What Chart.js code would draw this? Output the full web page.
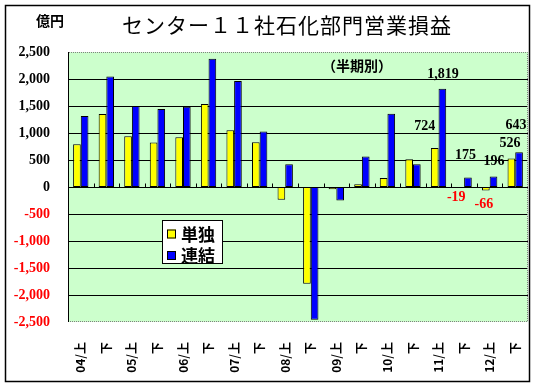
<!DOCTYPE html>
<html>
<head>
<meta charset="utf-8">
<script src="https://cdn.jsdelivr.net/npm/chart.js@4"></script>
<style>
  html, body { margin: 0; padding: 0; background: #fff; }
</style>
</head>
<body>
<canvas id="canvas" width="538" height="388"></canvas>
<script>
const labels = ["04/上", "下", "05/上", "下", "06/上", "下", "07/上", "下", "08/上", "下",
  "09/上", "下", "10/上", "下", "11/上", "下", "12/上", "下"];
const tandoku = [790, 1350, 940, 825, 920, 1535, 1050, 830, -235, -1790,
  -40, 50, 165, 515, 724, -19, -66, 526];
const renketsu = [1315, 2045, 1500, 1445, 1485, 2375, 1965, 1030, 420, -2460,
  -250, 565, 1355, 420, 1819, 175, 196, 643];
const yMin = -2500;
const yMax = 2500;
const yStep = 500;
const labelFrom = 14; // 数値ラベルは 11/上 から

// label offsets (px) from bar end, per dataset, for labelFrom..end
const labelOffsets = [
  [[-10, -22], [-4, 9], [-2, 14], [-1.5, -15]],
  [[0.5, -14], [-2.5, -22], [0.5, -15.5], [-3, -26.5]],
];

const fmt = (v) => v.toLocaleString("en-US");
const serif = '"Liberation Serif", "Times New Roman", serif';
const jp = '"Noto Sans CJK JP", sans-serif';

const decor = {
  id: "decor",
  beforeDraw(chart) {
    const { ctx, chartArea: a } = chart;
    ctx.save();
    ctx.fillStyle = "#fff";
    ctx.fillRect(0, 0, chart.width, chart.height);
    ctx.fillStyle = "#ccffcc";
    ctx.fillRect(a.left, a.top, a.right - a.left, a.bottom - a.top);
    ctx.restore();
  },
  beforeDatasetsDraw(chart) {
    // gridlines + value axis line, behind the bars
    const { ctx, chartArea: a, scales } = chart;
    const y = scales.y;
    ctx.save();
    ctx.fillStyle = "#000";
    y.ticks.forEach((t) => {
      if (Math.abs(t.value) === yMax) return;
      const py = Math.round(y.getPixelForValue(t.value));
      ctx.fillRect(a.left, py, a.right - a.left, 1);
    });
    ctx.fillRect(Math.round(a.left), a.top, 1, a.bottom - a.top);
    ctx.restore();
  },
  afterDatasetsDraw(chart) {
    const { ctx, chartArea: a, scales } = chart;
    const x = scales.x;
    const y0 = Math.round(scales.y.getPixelForValue(0)) + 0.5;
    const w = (a.right - a.left) / labels.length;
    ctx.save();
    // zero line + ticks at category boundaries
    ctx.strokeStyle = "#000";
    ctx.lineWidth = 1;
    ctx.beginPath();
    ctx.moveTo(a.left, y0);
    ctx.lineTo(a.right, y0);
    for (let i = 1; i < labels.length; i++) {
      const px = Math.round(x.getPixelForValue(i) - w / 2) + 0.5;
      ctx.moveTo(px, y0);
      ctx.lineTo(px, y0 - 4);
    }
    ctx.stroke();
    // dotted plot border (top, right, bottom)
    ctx.strokeStyle = "#808080";
    ctx.setLineDash([1, 1]);
    ctx.beginPath();
    ctx.moveTo(a.left + 1, a.top + 0.5);
    ctx.lineTo(a.right - 0.5, a.top + 0.5);
    ctx.lineTo(a.right - 0.5, a.bottom - 0.5);
    ctx.lineTo(a.left + 1, a.bottom - 0.5);
    ctx.stroke();
    ctx.setLineDash([]);
    // data labels
    ctx.font = "bold 14px " + serif;
    ctx.textAlign = "center";
    ctx.textBaseline = "middle";
    chart.data.datasets.forEach((ds, d) => {
      const meta = chart.getDatasetMeta(d);
      for (let i = labelFrom; i < ds.data.length; i++) {
        const el = meta.data[i];
        const off = labelOffsets[d][i - labelFrom];
        const v = ds.data[i];
        ctx.fillStyle = v < 0 ? "#ff0000" : "#000";
        ctx.fillText(fmt(v), el.x + off[0], el.y + off[1]);
      }
    });
    ctx.restore();
  },
  afterDraw(chart) {
    const { ctx } = chart;
    ctx.save();
    // title
    ctx.fillStyle = "#000";
    ctx.textAlign = "center";
    ctx.textBaseline = "middle";
    ctx.font = "21px " + jp;
    ctx.letterSpacing = "1px";
    ctx.fillText("センター１１社石化部門営業損益", 287, 25);
    ctx.letterSpacing = "0px";
    ctx.font = "bold 14px " + jp;
    ctx.fillText("億円", 50, 21);
    ctx.fillText("（半期別）", 357, 66);
    // legend
    ctx.fillStyle = "#fff";
    ctx.fillRect(162, 220, 60, 43);
    ctx.strokeStyle = "#000";
    ctx.lineWidth = 1;
    ctx.strokeRect(162.5, 220.5, 60, 43);
    ctx.textAlign = "left";
    ctx.font = "bold 17px " + jp;
    chart.data.datasets.forEach((ds, d) => {
      const yy = 233.5 + d * 21.5;
      ctx.fillStyle = ds.backgroundColor;
      ctx.fillRect(167, yy - 4, 9, 9);
      ctx.strokeRect(167.5, yy - 3.5, 8, 8);
      ctx.fillStyle = "#000";
      ctx.fillText(ds.label, 181, yy + 1);
    });
    // outer frame
    ctx.lineWidth = 1.5;
    ctx.strokeRect(5.5, 5.5, 524, 376);
    ctx.restore();
  },
};

const data = {
  labels: labels,
  datasets: [
    {
      label: "単独",
      data: tandoku,
      backgroundColor: "#ffff00",
      borderColor: "#000",
      borderWidth: 1,
      borderSkipped: false,
    },
    {
      label: "連結",
      data: renketsu,
      backgroundColor: "#0000ff",
      borderColor: "#000",
      borderWidth: 1,
      borderSkipped: false,
    },
  ],
};

const config = {
  type: "bar",
  data: data,
  plugins: [decor],
  options: {
    responsive: false,
    animation: false,
    layout: { padding: { left: 0, right: 10, top: 52, bottom: 0 } },
    datasets: { bar: { categoryPercentage: 0.6, barPercentage: 1.0 } },
    plugins: { legend: { display: false }, tooltip: { enabled: false } },
    scales: {
      x: {
        grid: { display: false },
        border: { display: false },
        ticks: {
          autoSkip: false,
          minRotation: 90,
          maxRotation: 90,
          padding: 12,
          color: "#000",
          font: { family: jp, size: 12, weight: "bold" },
        },
        afterFit: (s) => {
          s.height = 66;
          s.paddingLeft = 0;
          s.paddingRight = 0;
        },
      },
      y: {
        min: yMin,
        max: yMax,
        grid: { display: false, drawTicks: false },
        border: { display: false },
        ticks: {
          stepSize: yStep,
          padding: 18,
          color: (c) => (c.tick && c.tick.value < 0 ? "#ff0000" : "#000"),
          font: { family: serif, size: 14, weight: "bold" },
          callback: (v) => fmt(v),
        },
        afterFit: (s) => {
          s.width = 68;
          s.paddingTop = 0;
          s.paddingBottom = 0;
        },
      },
    },
  },
};

new Chart(document.getElementById("canvas"), config);
</script>
</body>
</html>
